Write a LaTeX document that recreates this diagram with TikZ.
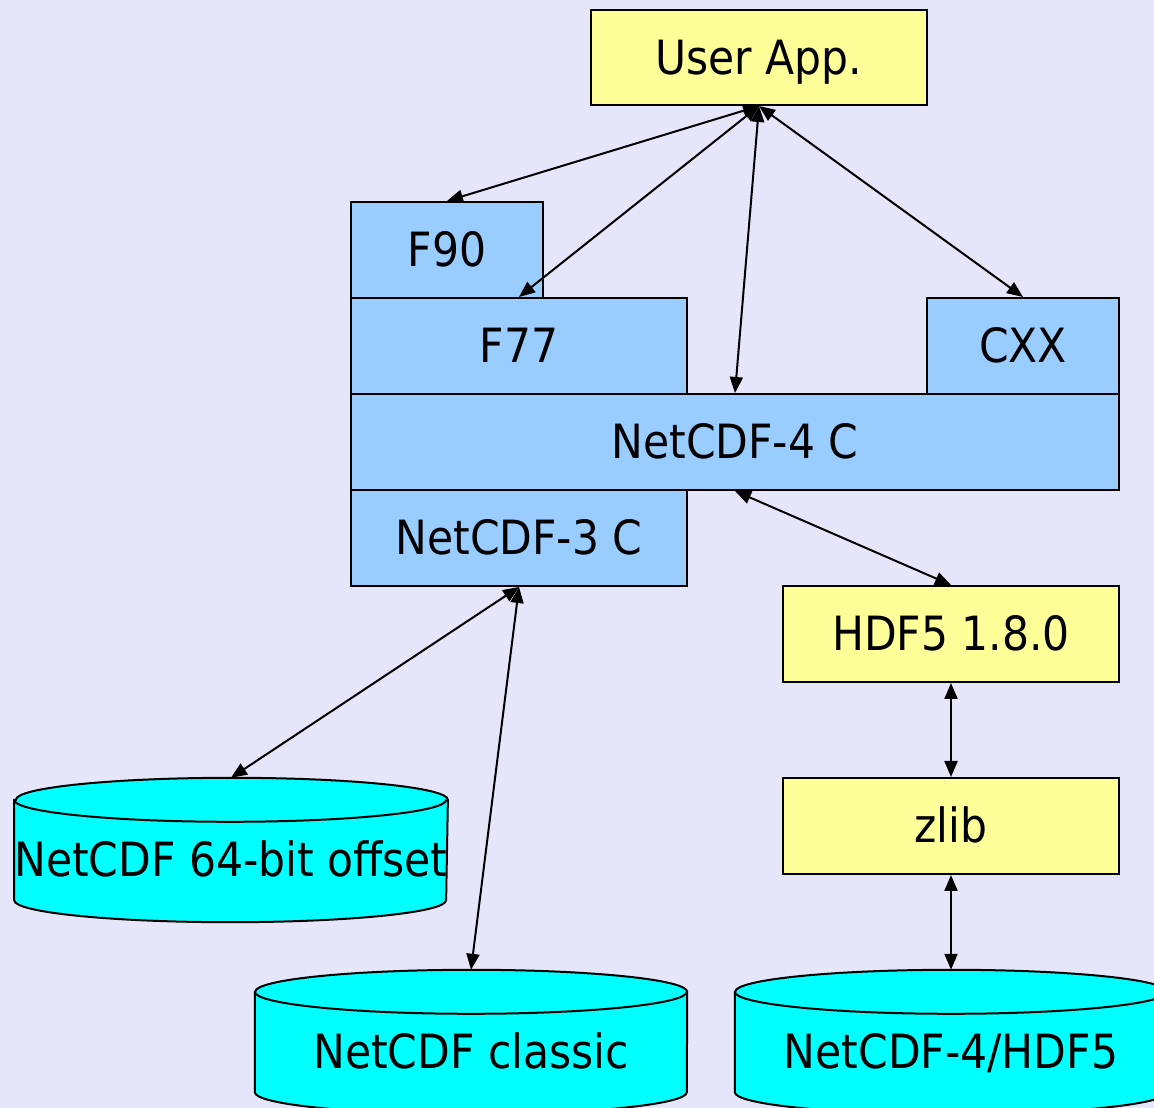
\documentclass[tikz,border=0pt]{standalone}
\usepackage{fontspec}
\setmainfont{DejaVu Sans}[FakeStretch=0.9]
\usetikzlibrary{arrows.meta,calc}
\pgfdeclarelayer{background}
\pgfsetlayers{background,main}
\definecolor{bgcol}{HTML}{E6E6FA}
\definecolor{appyellow}{HTML}{FFFF99}
\definecolor{libblue}{HTML}{99CCFF}
\definecolor{drumcyan}{HTML}{00FFFF}
\tikzstyle{block}=[draw,line width=2pt,inner sep=0pt,minimum height=96pt,text height=34pt,text depth=0pt,font=\fontsize{47.2}{56}\selectfont]
\tikzstyle{app}=[block,fill=appyellow,minimum width=336pt]
\tikzstyle{lib}=[block,fill=libblue]
\tikzstyle{store}=[inner sep=0pt,minimum width=432pt,minimum height=144pt,text height=54pt,text depth=0pt,font=\fontsize{47.2}{56}\selectfont]
\tikzstyle{link}=[draw,line width=2pt,<->,>={Triangle[length=16pt,width=13pt]}]
% cylinder drawn round a store node
\newcommand\drum[1]{%
  \filldraw[line width=2pt,fill=drumcyan]
    ($(#1.north west)+(0,-22)$) -- ($(#1.south west)+(0,22)$)
    arc[start angle=180,end angle=360,x radius=216,y radius=22]
    -- ($(#1.north east)+(0,-22)$)
    arc[start angle=0,end angle=180,x radius=216,y radius=22] -- cycle;
  \draw[line width=2pt] ($(#1.north west)+(0,-22)$)
    arc[start angle=180,end angle=360,x radius=216,y radius=22];}

\begin{document}
\begin{tikzpicture}[x=1pt,y=1pt]
  \useasboundingbox (0,0) rectangle (1154,1108);
  \node[app,minimum height=95pt] (user) at (759,1050.5) {User App.};
  \node[lib,minimum width=192pt] (f90) at (447,858) {F90};
  \node[lib,minimum width=336pt] (f77) at (519,762) {F77};
  \node[lib,minimum width=192pt] (cxx) at (1023,762) {CXX};
  \node[lib,minimum width=768pt] (nc4) at (735,666) {NetCDF-4 C};
  \node[lib,minimum width=336pt] (nc3) at (519,570) {NetCDF-3 C};
  \node[app] (hdf) at (951,474) {HDF5 1.8.0};
  \node[app] (zlib) at (951,282) {zlib};
  \node[store] (off64) at (231,258) {NetCDF 64-bit offset};
  \node[store] (classic) at (471,66) {NetCDF classic};
  \node[store] (nc4hdf) at (951,66) {NetCDF-4/HDF5};
  \begin{pgfonlayer}{background}
    \fill[bgcol] (0,0) rectangle (1154,1108);
    \drum{off64}
    \drum{classic}
    \drum{nc4hdf}
  \end{pgfonlayer}
  \draw[link] (user.south) -- (f90.north);
  \draw[link] (user.south) -- (f77.north);
  \draw[link] (user.south) -- (nc4.north);
  \draw[link] (user.south) -- (cxx.north);
  \draw[link] (nc4.south) -- (hdf.north);
  \draw[link] (hdf.south) -- (zlib.north);
  \draw[link] (zlib.south) -- (nc4hdf.north);
  \draw[link] (nc3.south) -- (off64.north);
  \draw[link] (nc3.south) -- (classic.north);
\end{tikzpicture}
\end{document}
